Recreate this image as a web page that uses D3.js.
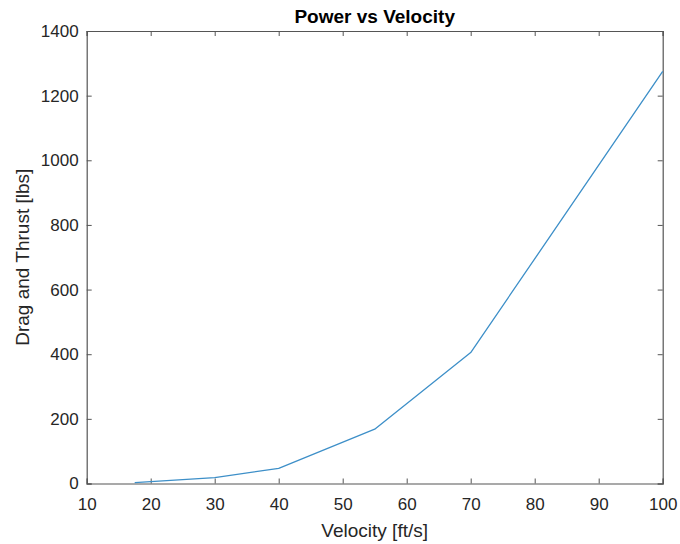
<!DOCTYPE html>
<html>
<head>
<meta charset="utf-8">
<script src="https://cdn.jsdelivr.net/npm/d3@7"></script>
<style>
  html, body { margin: 0; padding: 0; background: #fff; }
  svg text { font-family: "Liberation Sans", Arial, Helvetica, sans-serif; }
</style>
</head>
<body>
<svg id="chart" width="680" height="544"></svg>
<script>
// Velocity samples [ft/s] and the matching drag/thrust [lbs]
const velocity = [17.5, 30, 40, 55, 70, 100];
const dragThrust = [3, 18, 47, 168, 405, 1275];

const xTicks = [10, 20, 30, 40, 50, 60, 70, 80, 90, 100];
const yTicks = [0, 200, 400, 600, 800, 1000, 1200, 1400];

const titleText = "Power vs Velocity";
const xLabelText = "Velocity [ft/s]";
const yLabelText = "Drag and Thrust [lbs]";

const svg = d3.select("#chart");
const margin = { left: 86.7, right: 680 - 662.7, top: 31, bottom: 544 - 483.5 };
const W = 680, H = 544;
const x0 = margin.left, x1 = W - margin.right;
const y0 = H - margin.bottom, y1 = margin.top;

const x = d3.scaleLinear().domain([10, 100]).range([x0, x1]);
const y = d3.scaleLinear().domain([0, 1400]).range([y0, y1]);

const axisColor = "#555";
const textColor = "#262626";
const tickLen = 5;

// axes with inward ticks (bottom/left labelled, top/right bare)
const gx = svg.append("g").attr("transform", `translate(0,${y0})`)
  .call(d3.axisBottom(x).tickValues(xTicks).tickSize(-tickLen).tickPadding(14).tickFormat(d3.format("d")));
const gxTop = svg.append("g").attr("transform", `translate(0,${y1})`)
  .call(d3.axisTop(x).tickValues(xTicks).tickSize(-tickLen).tickFormat(""));
const gy = svg.append("g").attr("transform", `translate(${x0},0)`)
  .call(d3.axisLeft(y).tickValues(yTicks).tickSize(-tickLen).tickPadding(8).tickFormat(d3.format("d")));
const gyRight = svg.append("g").attr("transform", `translate(${x1},0)`)
  .call(d3.axisRight(y).tickValues(yTicks).tickSize(-tickLen).tickFormat(""));

[gx, gxTop, gy, gyRight].forEach(g => {
  g.select(".domain").attr("stroke", axisColor).attr("stroke-width", 1.2);
  g.selectAll(".tick line").attr("stroke", axisColor).attr("stroke-width", 1);
  g.selectAll(".tick text").attr("fill", textColor).style("font-size", "17px")
    .style("font-family", '"Liberation Sans", Arial, sans-serif');
});
gx.selectAll(".tick text").attr("dy", "0.71em");

// data line
const line = d3.line().x((d, i) => x(velocity[i])).y(d => y(d));
svg.append("path")
  .datum(dragThrust)
  .attr("fill", "none")
  .attr("stroke", "#3d8fc8")
  .attr("stroke-width", 1.3)
  .attr("stroke-linejoin", "round")
  .attr("d", line);

// title and axis labels
svg.append("text")
  .attr("x", (x0 + x1) / 2).attr("y", 22.5)
  .attr("text-anchor", "middle")
  .attr("fill", "#000")
  .style("font-size", "19px").style("font-weight", "bold")
  .text(titleText);

svg.append("text")
  .attr("x", (x0 + x1) / 2).attr("y", 537)
  .attr("text-anchor", "middle")
  .attr("fill", textColor)
  .style("font-size", "19px")
  .text(xLabelText);

svg.append("text")
  .attr("transform", `translate(29,${(y0 + y1) / 2}) rotate(-90)`)
  .attr("text-anchor", "middle")
  .attr("fill", textColor)
  .style("font-size", "19px")
  .text(yLabelText);
</script>
</body>
</html>
